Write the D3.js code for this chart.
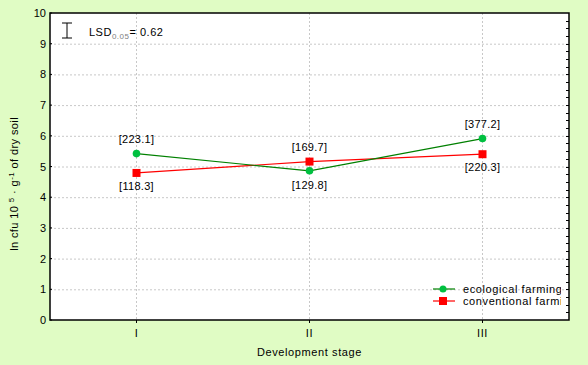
<!DOCTYPE html>
<html>
<head>
<meta charset="utf-8">
<script src="https://cdn.jsdelivr.net/npm/d3@7"></script>
<style>
  body { margin: 0; background: #e0fcc4; }
  svg { display: block; font-family: "Liberation Sans", Arial, sans-serif; }
  .grid line { stroke: #c8c8c8; stroke-dasharray: 2,2; }
  .grid path { display: none; }
  .tick-label { font-size: 11px; fill: #000; }
</style>
</head>
<body>
<div id="chart"></div>
<script>
const stages = ["I", "II", "III"];
const ecological = [5.42, 4.86, 5.91];
const conventional = [4.79, 5.16, 5.40];
const ecoLabels = ["[223.1]", "[129.8]", "[377.2]"];
const convLabels = ["[118.3]", "[169.7]", "[220.3]"];
const yTicks = [0, 1, 2, 3, 4, 5, 6, 7, 8, 9, 10];

const W = 588, H = 365;
const plot = { left: 50, right: 569, top: 13, bottom: 320 };

const svg = d3.select("#chart").append("svg")
    .attr("width", W).attr("height", H);

svg.append("rect").attr("width", W).attr("height", H).attr("fill", "#e0fcc4");

const x = d3.scaleBand().domain(stages).range([plot.left, plot.right]).padding(0);
const y = d3.scaleLinear().domain([0, 10]).range([plot.bottom, plot.top]);
const cx = d => x(d) + x.bandwidth() / 2;

// plot background
svg.append("rect")
    .attr("x", plot.left).attr("y", plot.top)
    .attr("width", plot.right - plot.left).attr("height", plot.bottom - plot.top)
    .attr("fill", "#fff");

// grid
svg.append("g").attr("class", "grid")
    .attr("transform", `translate(${plot.left},0)`)
    .call(d3.axisLeft(y).tickValues(yTicks.slice(1, -1)).tickSize(-(plot.right - plot.left)).tickFormat(""));
svg.append("g").attr("class", "grid")
    .selectAll("line").data(stages).join("line")
    .attr("x1", cx).attr("x2", cx)
    .attr("y1", plot.top).attr("y2", plot.bottom);

// frame
svg.append("rect")
    .attr("x", plot.left).attr("y", plot.top)
    .attr("width", plot.right - plot.left).attr("height", plot.bottom - plot.top)
    .attr("fill", "none").attr("stroke", "#000").attr("stroke-width", 1.5);

// minor ticks on right axis
svg.append("g").selectAll("line").data(d3.range(0.25, 10, 0.25)).join("line")
    .attr("x1", plot.right - 3).attr("x2", plot.right)
    .attr("y1", d => Math.round(y(d)) + 0.5).attr("y2", d => Math.round(y(d)) + 0.5)
    .attr("stroke", "#000");

// y tick labels + ticks
svg.append("g").selectAll("text").data(yTicks).join("text")
    .attr("class", "tick-label")
    .attr("x", plot.left - 4).attr("y", d => y(d) + 4)
    .attr("text-anchor", "end").text(d => d);
svg.append("g").selectAll("line").data(yTicks).join("line")
    .attr("x1", plot.left).attr("x2", plot.left + 2)
    .attr("y1", d => y(d)).attr("y2", d => y(d)).attr("stroke", "#000");

// x tick labels + ticks
svg.append("g").selectAll("text").data(stages).join("text")
    .attr("class", "tick-label")
    .attr("x", cx).attr("y", plot.bottom + 17)
    .attr("text-anchor", "middle").attr("letter-spacing", 0.6).text(d => d);
svg.append("g").selectAll("line").data(stages).join("line")
    .attr("x1", cx).attr("x2", cx)
    .attr("y1", plot.bottom).attr("y2", plot.bottom + 3).attr("stroke", "#000");

// axis titles
svg.append("text").attr("x", cx("II")).attr("y", 356)
    .attr("text-anchor", "middle").attr("font-size", 11).attr("letter-spacing", 0.6)
    .text("Development stage");

const yl = svg.append("text")
    .attr("transform", "translate(18,117) rotate(-90)")
    .attr("text-anchor", "end").attr("font-size", 11).attr("letter-spacing", 0.4);
yl.append("tspan").text("ln cfu 10 ");
yl.append("tspan").attr("font-size", 8).attr("dy", -4).text("5");
yl.append("tspan").attr("dy", 4).text(" · g");
yl.append("tspan").attr("font-size", 8).attr("dy", -4).text("-1");
yl.append("tspan").attr("dy", 4).text(" of dry soil");

// LSD annotation
const lsd = svg.append("g").attr("stroke", "#000");
lsd.append("line").attr("x1", 67).attr("x2", 67).attr("y1", 23).attr("y2", 38);
lsd.append("line").attr("x1", 62).attr("x2", 72).attr("y1", 23).attr("y2", 23);
lsd.append("line").attr("x1", 62).attr("x2", 72).attr("y1", 38).attr("y2", 38);
const lt = svg.append("text").attr("x", 89).attr("y", 36).attr("font-size", 11).attr("letter-spacing", 0.5);
lt.append("tspan").text("LSD");
lt.append("tspan").attr("font-size", 8).attr("fill", "#808080").attr("dy", 3).text("0.05");
lt.append("tspan").attr("dy", -3).text("= 0.62");

// series
const line = d3.line().x((d, i) => cx(stages[i])).y(d => y(d));

svg.append("path").datum(conventional)
    .attr("d", line).attr("fill", "none").attr("stroke", "#ff0000").attr("stroke-width", 1.2);
svg.append("path").datum(ecological)
    .attr("d", line).attr("fill", "none").attr("stroke", "#008000").attr("stroke-width", 1.2);

svg.append("g").selectAll("rect").data(conventional).join("rect")
    .attr("x", (d, i) => cx(stages[i]) - 4).attr("y", d => y(d) - 4)
    .attr("width", 8).attr("height", 8).attr("fill", "#ff0000");
svg.append("g").selectAll("circle").data(ecological).join("circle")
    .attr("cx", (d, i) => cx(stages[i])).attr("cy", d => y(d))
    .attr("r", 3.8).attr("fill", "#00c040");

// value labels
const above = stages.map((s, i) => ecological[i] > conventional[i]);
svg.append("g").selectAll("text").data(ecological).join("text")
    .attr("x", (d, i) => cx(stages[i]))
    .attr("y", (d, i) => above[i] ? y(d) - 11 : y(d) + 18)
    .attr("text-anchor", "middle").attr("font-size", 11).attr("letter-spacing", 0.3)
    .text((d, i) => ecoLabels[i]);
svg.append("g").selectAll("text").data(conventional).join("text")
    .attr("x", (d, i) => cx(stages[i]))
    .attr("y", (d, i) => above[i] ? y(d) + 17 : y(d) - 11)
    .attr("text-anchor", "middle").attr("font-size", 11).attr("letter-spacing", 0.3)
    .text((d, i) => convLabels[i]);

// legend (clipped at the plot edge, as in the original)
svg.append("clipPath").attr("id", "clip")
    .append("rect").attr("x", plot.left).attr("y", plot.top)
    .attr("width", plot.right - plot.left - 8).attr("height", plot.bottom - plot.top);
const legend = svg.append("g").attr("clip-path", "url(#clip)");
const items = [
    { name: "ecological farming", color: "#008000", fill: "#00c040", shape: "circle" },
    { name: "conventional farming", color: "#ff0000", fill: "#ff0000", shape: "square" }
];
items.forEach((it, i) => {
    const ly = 289 + i * 12;
    legend.append("line").attr("x1", 433).attr("x2", 455).attr("y1", ly).attr("y2", ly)
        .attr("stroke", it.color).attr("stroke-width", 1.2);
    if (it.shape === "circle") {
        legend.append("circle").attr("cx", 443).attr("cy", ly).attr("r", 3.5).attr("fill", it.fill);
    } else {
        legend.append("rect").attr("x", 439).attr("y", ly - 4).attr("width", 8).attr("height", 8).attr("fill", it.fill);
    }
    legend.append("text").attr("x", 463).attr("y", ly + 4).attr("font-size", 11)
        .attr("letter-spacing", 0.6).text(it.name);
});
</script>
</body>
</html>
